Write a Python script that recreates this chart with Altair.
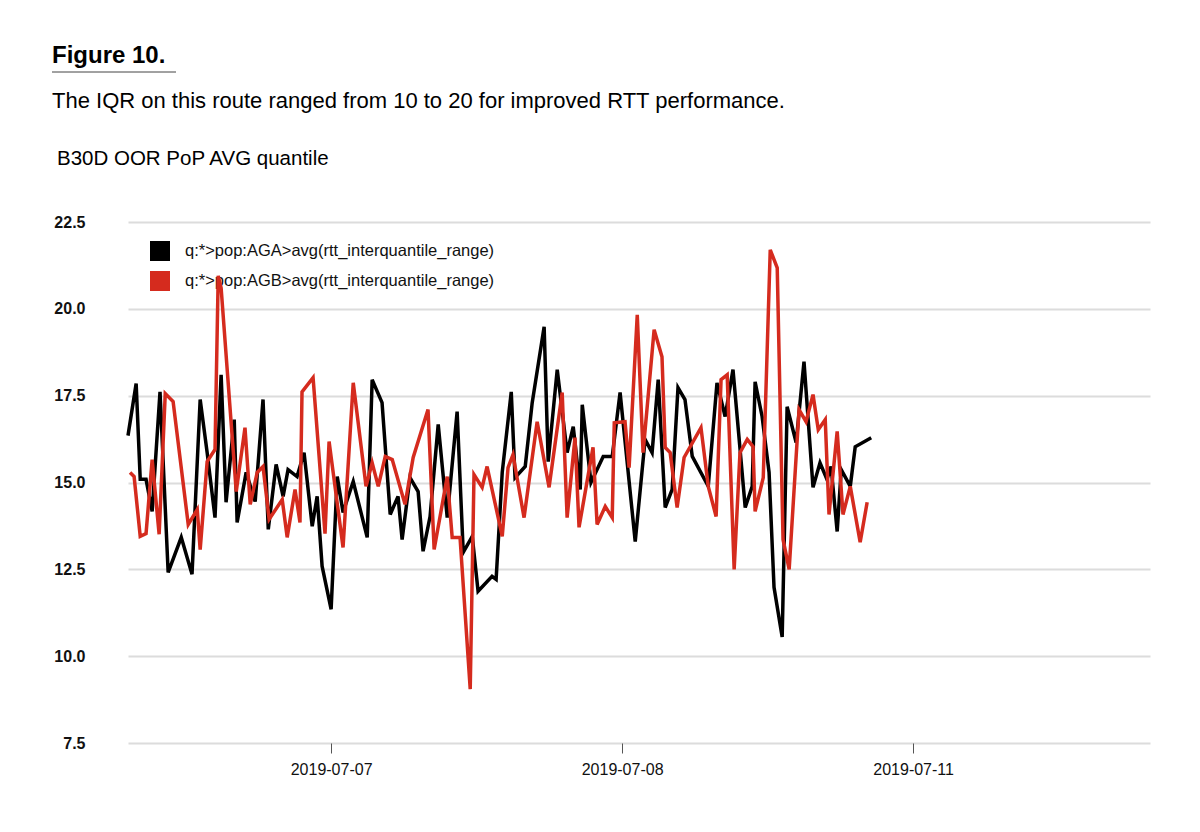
import altair as alt
import pandas as pd

# ---- data ----
series_names = [
    "q:*>pop:AGA>avg(rtt_interquantile_range)",
    "q:*>pop:AGB>avg(rtt_interquantile_range)",
]
series_colors = ["#000000", "#d52b1e"]

# x position in axis units (1 = 2019-07-07 tick, 2 = 2019-07-08 tick, 3 = 2019-07-11 tick)
aga_pos = [0.302, 0.330, 0.344, 0.364, 0.385, 0.412, 0.440, 0.485, 0.522, 0.550,
           0.574, 0.601, 0.622, 0.639, 0.667, 0.677, 0.708, 0.739, 0.766, 0.784,
           0.811, 0.835, 0.852, 0.883, 0.907, 0.935, 0.952, 0.969, 1.000, 1.021,
           1.041, 1.076, 1.124, 1.141, 1.175, 1.203, 1.230, 1.244, 1.271, 1.299,
           1.316, 1.340, 1.368, 1.399, 1.433, 1.454, 1.485, 1.505, 1.553, 1.567,
           1.588, 1.619, 1.632, 1.667, 1.691, 1.732, 1.746, 1.777, 1.811, 1.832,
           1.856, 1.863, 1.893, 1.935, 1.966, 1.993, 2.045, 2.079, 2.103, 2.124,
           2.148, 2.172, 2.192, 2.216, 2.241, 2.296, 2.326, 2.354, 2.381, 2.423,
           2.447, 2.457, 2.481, 2.505, 2.522, 2.550, 2.567, 2.598, 2.625, 2.656,
           2.680, 2.704, 2.718, 2.739, 2.753, 2.784, 2.801, 2.856]
aga_iqr = [16.35, 17.85, 15.09, 15.09, 14.17, 17.61, 12.41, 13.42, 12.36, 17.39,
           15.86, 13.99, 18.10, 14.43, 16.81, 13.85, 15.29, 14.45, 17.39, 13.65,
           15.52, 14.60, 15.37, 15.17, 15.86, 13.74, 14.60, 12.59, 11.35, 15.17,
           14.14, 15.03, 13.42, 17.96, 17.30, 14.08, 14.60, 13.36, 15.14, 14.74,
           13.02, 14.02, 16.67, 13.99, 17.04, 12.99, 13.45, 11.87, 12.30, 12.21,
           15.29, 17.61, 15.14, 15.46, 17.30, 19.48, 15.60, 18.25, 15.86, 16.61,
           14.80, 17.24, 15.00, 15.75, 15.75, 17.59, 13.30, 16.24, 15.86, 17.96,
           14.28, 14.80, 17.73, 17.39, 15.75, 14.89, 17.87, 16.90, 18.25, 14.28,
           14.89, 17.90, 16.90, 15.29, 11.98, 10.55, 17.18, 16.15, 18.48, 14.86,
           15.57, 15.09, 15.46, 13.59, 15.37, 14.89, 16.03, 16.29]

agb_pos = [0.309, 0.323, 0.344, 0.364, 0.385, 0.409, 0.430, 0.457, 0.509, 0.540,
           0.550, 0.574, 0.601, 0.612, 0.622, 0.674, 0.704, 0.722, 0.746, 0.766,
           0.787, 0.832, 0.849, 0.876, 0.893, 0.900, 0.938, 0.979, 0.993, 1.041,
           1.076, 1.120, 1.141, 1.162, 1.186, 1.210, 1.254, 1.282, 1.333, 1.354,
           1.399, 1.416, 1.443, 1.478, 1.491, 1.519, 1.536, 1.588, 1.608, 1.625,
           1.663, 1.708, 1.749, 1.794, 1.811, 1.838, 1.852, 1.900, 1.914, 1.942,
           1.966, 1.973, 2.010, 2.024, 2.052, 2.072, 2.110, 2.137, 2.148, 2.165,
           2.189, 2.213, 2.271, 2.296, 2.323, 2.340, 2.361, 2.385, 2.405, 2.430,
           2.450, 2.457, 2.485, 2.509, 2.533, 2.553, 2.574, 2.608, 2.632, 2.656,
           2.674, 2.698, 2.711, 2.739, 2.759, 2.784, 2.818, 2.842]
agb_iqr = [15.29, 15.17, 13.45, 13.53, 15.66, 13.51, 17.56, 17.33, 13.79, 14.22,
           13.07, 15.60, 15.95, 20.95, 20.60, 14.74, 16.58, 14.37, 15.29, 15.46,
           13.94, 14.51, 13.42, 14.80, 13.85, 17.61, 18.02, 13.53, 16.18, 13.13,
           17.87, 14.89, 15.57, 14.89, 15.75, 15.66, 14.37, 15.72, 17.10, 13.07,
           15.17, 13.42, 13.42, 9.05, 15.23, 14.86, 15.46, 13.45, 15.43, 15.80,
           13.99, 16.75, 14.86, 17.59, 13.99, 16.29, 13.71, 16.01, 13.79, 14.31,
           13.99, 16.72, 16.75, 15.43, 19.83, 15.86, 19.40, 18.62, 16.01, 15.86,
           14.28, 15.72, 16.58, 14.89, 14.02, 17.96, 18.10, 12.50, 15.86, 16.24,
           16.03, 14.17, 15.14, 21.70, 21.18, 13.36, 12.50, 17.10, 16.75, 17.53,
           16.52, 16.81, 14.08, 16.47, 14.08, 14.89, 13.28, 14.43]

x_tick_values = [1, 2, 3]
x_tick_labels = ["2019-07-07", "2019-07-08", "2019-07-11"]
x_domain = [0.302, 3.814]
y_tick_values = [7.5, 10.0, 12.5, 15.0, 17.5, 20.0, 22.5]
y_domain = [7.5, 22.5]

fig_title = "Figure 10."
fig_subtitle = "The IQR on this route ranged from 10 to 20 for improved RTT performance."
chart_label = "B30D OOR PoP AVG quantile"

FONT = "Liberation Sans"

df = pd.concat([
    pd.DataFrame({"pos": aga_pos, "iqr": aga_iqr, "series": series_names[0], "order": range(len(aga_pos))}),
    pd.DataFrame({"pos": agb_pos, "iqr": agb_iqr, "series": series_names[1], "order": range(len(agb_pos))}),
], ignore_index=True)

label_expr = " : ".join(
    f"datum.value == {v} ? '{t}'" for v, t in zip(x_tick_values, x_tick_labels)
) + " : ''"

color_scale = alt.Scale(domain=series_names, range=series_colors)

lines = alt.Chart(df).mark_line(strokeWidth=3.5, strokeJoin="miter").encode(
    x=alt.X("pos:Q", scale=alt.Scale(domain=x_domain, nice=False, zero=False),
            axis=alt.Axis(values=x_tick_values, labelExpr=label_expr, title=None,
                          grid=False, domain=False, ticks=True, tickSize=10,
                          tickColor="#555555", tickWidth=1, labelPadding=8,
                          labelFont=FONT, labelFontSize=16, labelColor="#111111")),
    y=alt.Y("iqr:Q", scale=alt.Scale(domain=y_domain, nice=False, zero=False),
            axis=alt.Axis(values=y_tick_values, format=".1f", title=None,
                          grid=True, gridColor="#dcdcdc", gridWidth=2,
                          domain=False, ticks=False, labelPadding=43,
                          labelFont=FONT, labelFontSize=16, labelFontWeight="bold",
                          labelColor="#111111")),
    color=alt.Color("series:N", scale=color_scale, legend=None),
    order="order:Q",
)

# legend drawn as its own small layer (filled squares + labels), under the lines
legend_df = pd.DataFrame({"series": series_names})
legend_y = alt.Y("series:N", scale=alt.Scale(domain=series_names, range=[29, 59], padding=0), axis=None)

legend_sq = alt.Chart(legend_df).mark_square(size=400, filled=True, opacity=1).encode(
    x=alt.value(32), y=legend_y,
    color=alt.Color("series:N", scale=color_scale, legend=None),
)
legend_lbl = alt.Chart(legend_df).mark_text(
    align="left", baseline="middle", font=FONT, fontSize=16.5, color="#111111"
).encode(x=alt.value(57), y=legend_y, text="series:N")

title_df = pd.DataFrame({"t": [fig_title]})
sub_df = pd.DataFrame({"t": [fig_subtitle]})
lab_df = pd.DataFrame({"t": [chart_label]})

title_txt = alt.Chart(title_df).mark_text(
    align="left", baseline="alphabetic", font=FONT, fontSize=24, fontWeight="bold", color="#000000"
).encode(text="t:N", x=alt.value(-76), y=alt.value(-159))

underline = alt.Chart(title_df).mark_rule(color="#444444", strokeWidth=1).encode(
    x=alt.value(-76), x2=alt.value(48), y=alt.value(-150))

sub_txt = alt.Chart(sub_df).mark_text(
    align="left", baseline="alphabetic", font=FONT, fontSize=22, color="#000000"
).encode(text="t:N", x=alt.value(-76), y=alt.value(-114))

lab_txt = alt.Chart(lab_df).mark_text(
    align="left", baseline="alphabetic", font=FONT, fontSize=20.5, color="#000000"
).encode(text="t:N", x=alt.value(-71), y=alt.value(-57))

chart = alt.layer(lines, legend_sq, legend_lbl, title_txt, underline, sub_txt, lab_txt).resolve_scale(
    y="independent"
).properties(
    width=1022, height=521,
    padding={"left": 120, "top": 214, "right": 42, "bottom": 81},
    autosize=alt.AutoSizeParams(type="none"),
).configure(background="white").configure_view(stroke=None)

# draw lines on top of the legend, as in the reference
chart.layer = [chart.layer[1], chart.layer[2], chart.layer[0]] + list(chart.layer[3:])

chart.save("out.html", embed_options={"renderer": "svg", "actions": False})
